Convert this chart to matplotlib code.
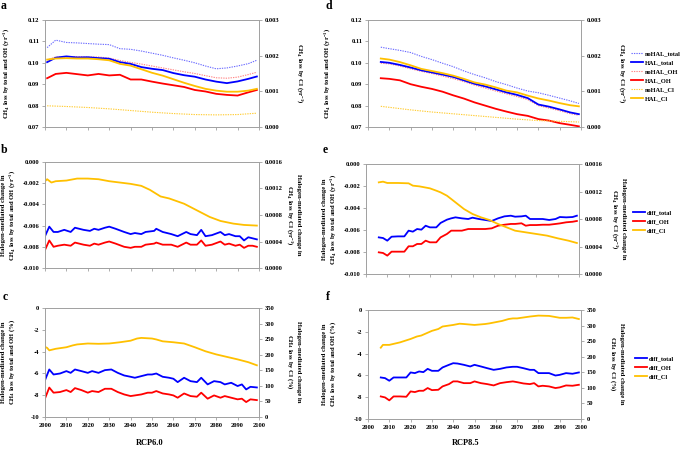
import matplotlib
matplotlib.use("Agg")
import matplotlib.pyplot as plt
from matplotlib.ticker import FormatStrFormatter, MultipleLocator
from matplotlib.lines import Line2D

plt.rcParams["font.family"] = ["Liberation Serif", "DejaVu Serif"]
plt.rcParams["font.weight"] = "bold"
plt.rcParams["mathtext.fontset"] = "custom"
plt.rcParams["mathtext.rm"] = "Liberation Serif:bold"
plt.rcParams["mathtext.it"] = "Liberation Serif:bold:italic"
plt.rcParams["mathtext.bf"] = "Liberation Serif:bold"
plt.rcParams["mathtext.default"] = "rm"
plt.rcParams["axes.unicode_minus"] = False

# ---------------- data: RCP6.0 (panels a, b, c) ----------------
years_a = [2001, 2005, 2010, 2015, 2020, 2025, 2030, 2035, 2040, 2045, 2050,
           2055, 2060, 2065, 2070, 2075, 2080, 2085, 2090, 2095, 2099]
noHAL_total_a = [0.1071, 0.1106, 0.1095, 0.1093, 0.1090, 0.1087, 0.1085, 0.1066, 0.1063, 0.1055, 0.1045,
                 0.1035, 0.1023, 0.1012, 0.1000, 0.0985, 0.0972, 0.0976, 0.0985, 0.0996, 0.1012]
HAL_total_a = [0.1003, 0.1024, 0.1030, 0.1025, 0.1026, 0.1022, 0.1019, 0.1003, 0.0995, 0.0980, 0.0972,
               0.0966, 0.0952, 0.0942, 0.0935, 0.0922, 0.0912, 0.0905, 0.0913, 0.0925, 0.0936]
noHAL_OH_a = [0.1014, 0.1027, 0.1027, 0.1029, 0.1027, 0.1027, 0.1022, 0.1011, 0.1002, 0.0994, 0.0985,
              0.0976, 0.0967, 0.0958, 0.0950, 0.0940, 0.0930, 0.0928, 0.0933, 0.0945, 0.0956]
HAL_OH_a = [0.0928, 0.0948, 0.0953, 0.0947, 0.0941, 0.0948, 0.0941, 0.0944, 0.0922, 0.0922, 0.0912,
            0.0903, 0.0895, 0.0887, 0.0873, 0.0866, 0.0855, 0.0850, 0.0847, 0.0862, 0.0873]
HAL_Cl_a = [0.00189, 0.00192, 0.00193, 0.00192, 0.00192, 0.00190, 0.00187, 0.00177, 0.00172, 0.00162, 0.00152,
            0.00144, 0.00134, 0.00124, 0.00115, 0.00107, 0.00102, 0.00099, 0.00099, 0.00102, 0.00107]
years_cl_a = [2001, 2010, 2020, 2030, 2040, 2050, 2060, 2070, 2080, 2090, 2099]
noHAL_Cl_a = [0.000594, 0.000575, 0.000547, 0.000509, 0.000462, 0.000415, 0.000377, 0.000349, 0.00034, 0.000349, 0.000387]

years_b = [2000, 2002, 2004, 2006, 2009, 2012, 2014, 2018, 2021, 2023, 2025, 2028, 2030, 2033, 2037, 2040,
           2042, 2045, 2047, 2051, 2052, 2055, 2059, 2062, 2066, 2068, 2071, 2073, 2075, 2078, 2082, 2084,
           2086, 2089, 2091, 2093, 2095, 2097, 2099]
diff_total_b = [-0.0070, -0.0061, -0.0066, -0.0066, -0.0064, -0.0066, -0.0062, -0.0064, -0.0065, -0.0063,
                -0.0064, -0.0062, -0.0061, -0.0063, -0.0066, -0.0068, -0.0067, -0.0068, -0.0066, -0.0065,
                -0.0063, -0.0066, -0.0068, -0.0070, -0.0066, -0.0068, -0.0069, -0.0064, -0.0070, -0.0069,
                -0.0066, -0.0069, -0.0068, -0.0070, -0.0070, -0.0074, -0.0071, -0.0072, -0.0073]
diff_OH_b = [-0.0083, -0.0074, -0.0080, -0.0079, -0.0078, -0.0079, -0.0076, -0.0078, -0.0079, -0.0077,
             -0.0078, -0.0076, -0.0075, -0.0077, -0.0080, -0.0081, -0.0080, -0.0080, -0.0078, -0.0077,
             -0.0076, -0.0078, -0.0078, -0.0080, -0.0076, -0.0078, -0.0078, -0.0074, -0.0079, -0.0078,
             -0.0075, -0.0078, -0.0077, -0.0079, -0.0078, -0.0081, -0.0079, -0.0079, -0.0080]
years_bcl = [2000, 2001, 2003, 2005, 2010, 2015, 2020, 2025, 2030, 2035, 2040, 2045, 2049, 2054, 2058,
             2065, 2071, 2077, 2082, 2088, 2093, 2099]
diff_Cl_b = [0.00131, 0.00134, 0.00129, 0.00131, 0.00132, 0.00135, 0.00135, 0.00134, 0.00131, 0.00129,
             0.00127, 0.00124, 0.00118, 0.00108, 0.00105, 0.00097, 0.00087, 0.00077, 0.00071, 0.00067,
             0.00065, 0.00064]

years_c = [2000, 2002, 2004, 2007, 2010, 2012, 2014, 2017, 2020, 2022, 2025, 2028, 2031, 2034, 2037, 2040,
           2042, 2045, 2048, 2050, 2052, 2055, 2058, 2060, 2062, 2065, 2068, 2071, 2073, 2076, 2079, 2082,
           2084, 2087, 2090, 2092, 2094, 2096, 2099]
diff_total_c = [-6.62, -5.64, -6.10, -6.01, -5.79, -5.95, -5.64, -5.79, -5.95, -5.79, -5.95, -5.70, -5.64,
                -5.95, -6.19, -6.31, -6.40, -6.25, -6.10, -6.10, -6.01, -6.31, -6.40, -6.49, -6.80, -6.40,
                -6.71, -6.80, -6.40, -7.01, -6.71, -6.80, -7.01, -6.86, -7.16, -7.01, -7.47, -7.23, -7.29]
diff_OH_c = [-8.30, -7.30, -7.77, -7.71, -7.53, -7.71, -7.35, -7.53, -7.77, -7.62, -7.71, -7.41, -7.41,
             -7.71, -7.93, -8.08, -8.02, -7.93, -7.77, -7.77, -7.62, -7.84, -7.93, -8.02, -8.23, -7.84,
             -8.08, -8.14, -7.77, -8.32, -8.02, -8.23, -8.08, -8.23, -8.38, -8.32, -8.63, -8.38, -8.45]
years_ccl = [2000, 2001, 2002, 2005, 2010, 2013, 2015, 2020, 2025, 2030, 2035, 2040, 2043, 2045, 2050,
             2052, 2055, 2060, 2065, 2070, 2075, 2080, 2085, 2090, 2095, 2099]
diff_Cl_c = [225, 222, 214, 219, 224, 230, 233, 236, 235, 236, 240, 245, 252, 254, 252,
             249, 243, 240, 236, 224, 211, 201, 193, 185, 176, 166]

# ---------------- data: RCP8.5 (panels d, e, f) ----------------
years_d = [2006, 2010, 2015, 2020, 2025, 2030, 2035, 2040, 2045, 2050,
           2055, 2060, 2065, 2070, 2075, 2080, 2085, 2090, 2095, 2099]
noHAL_total_d = [0.1073, 0.1066, 0.1058, 0.1048, 0.1030, 0.1015, 0.0998, 0.0982, 0.0962, 0.0945,
                 0.0930, 0.0912, 0.0898, 0.0882, 0.0868, 0.0860, 0.0848, 0.0835, 0.0822, 0.0810]
HAL_total_d = [0.1004, 0.1000, 0.0990, 0.0978, 0.0965, 0.0955, 0.0945, 0.0934, 0.0918, 0.0902,
               0.0890, 0.0876, 0.0862, 0.0850, 0.0835, 0.0805, 0.0795, 0.0782, 0.0768, 0.0760]
noHAL_OH_d = [0.0998, 0.0995, 0.0985, 0.0972, 0.0960, 0.0950, 0.0938, 0.0926, 0.0912, 0.0896,
              0.0882, 0.0868, 0.0855, 0.0842, 0.0828, 0.0800, 0.0788, 0.0776, 0.0762, 0.0755]
HAL_OH_d = [0.0928, 0.0925, 0.0918, 0.0900, 0.0888, 0.0878, 0.0865, 0.0848, 0.0833, 0.0815,
            0.0800, 0.0785, 0.0772, 0.0760, 0.0752, 0.0737, 0.0730, 0.0718, 0.0710, 0.0703]
HAL_Cl_d = [0.00192, 0.00189, 0.00182, 0.00173, 0.00163, 0.00157, 0.00151, 0.00144, 0.00135, 0.00125,
            0.00119, 0.00111, 0.00102, 0.00097, 0.00088, 0.00080, 0.00074, 0.00067, 0.00061, 0.00058]
years_cl_d = [2006, 2020, 2030, 2040, 2050, 2060, 2070, 2080, 2090, 2099]
noHAL_Cl_d = [0.00058, 0.00048, 0.00042, 0.00037, 0.00032, 0.00027, 0.00022, 0.00018, 0.00016, 0.00014]

years_e = [2006, 2008, 2010, 2012, 2015, 2018, 2020, 2022, 2024, 2026, 2028, 2030, 2033, 2035, 2038, 2040,
           2042, 2045, 2048, 2050, 2053, 2056, 2059, 2062, 2065, 2068, 2070, 2073, 2075, 2077, 2080, 2083,
           2086, 2089, 2091, 2094, 2097, 2099]
diff_total_e = [-0.00667, -0.00673, -0.00697, -0.00661, -0.00658, -0.00658, -0.00606, -0.00615, -0.00591,
                -0.00597, -0.00561, -0.00576, -0.00576, -0.00536, -0.00506, -0.00494, -0.00485, -0.00494,
                -0.00500, -0.00488, -0.00500, -0.00509, -0.00518, -0.00494, -0.00476, -0.00470, -0.00479,
                -0.00476, -0.00470, -0.00500, -0.00500, -0.00500, -0.00509, -0.00500, -0.00482, -0.00485,
                -0.00482, -0.00470]
diff_OH_e = [-0.00803, -0.00809, -0.00833, -0.00797, -0.00797, -0.00797, -0.00748, -0.00748, -0.00727,
             -0.00727, -0.00697, -0.00712, -0.00712, -0.00667, -0.00636, -0.00606, -0.00606, -0.00606,
             -0.00591, -0.00591, -0.00591, -0.00591, -0.00585, -0.00561, -0.00552, -0.00545, -0.00545,
             -0.00539, -0.00561, -0.00555, -0.00555, -0.00552, -0.00552, -0.00545, -0.00540, -0.00530,
             -0.00525, -0.00518]
years_ecl = [2006, 2008, 2010, 2015, 2020, 2022, 2025, 2030, 2033, 2035, 2038, 2040, 2043, 2046, 2050,
             2054, 2058, 2062, 2066, 2070, 2075, 2080, 2085, 2090, 2095, 2099]
diff_Cl_e = [0.001333, 0.001343, 0.001324, 0.001324, 0.001319, 0.001285, 0.001275, 0.001246, 0.001212,
             0.001188, 0.001139, 0.001091, 0.001018, 0.000945, 0.000873, 0.000824, 0.000785, 0.000727,
             0.000679, 0.000630, 0.000606, 0.000582, 0.000558, 0.000519, 0.000485, 0.000451]

years_f = [2006, 2008, 2010, 2012, 2015, 2018, 2020, 2022, 2024, 2026, 2028, 2030, 2033, 2035, 2038, 2040,
           2042, 2045, 2048, 2050, 2053, 2056, 2059, 2062, 2065, 2068, 2070, 2073, 2076, 2078, 2080, 2082,
           2085, 2088, 2090, 2093, 2096, 2099]
diff_total_f = [-6.19, -6.25, -6.49, -6.19, -6.19, -6.19, -5.73, -5.79, -5.64, -5.70, -5.40, -5.58, -5.58,
                -5.27, -5.03, -4.88, -4.91, -5.03, -5.18, -5.03, -5.18, -5.34, -5.49, -5.40, -5.27, -5.21,
                -5.21, -5.34, -5.49, -5.49, -5.79, -5.79, -5.79, -6.01, -5.95, -5.79, -5.85, -5.73]
diff_OH_f = [-7.93, -8.02, -8.29, -7.93, -7.93, -7.96, -7.47, -7.53, -7.41, -7.41, -7.16, -7.35, -7.32,
             -7.01, -6.80, -6.55, -6.55, -6.71, -6.71, -6.55, -6.71, -6.80, -6.92, -6.71, -6.62, -6.55,
             -6.62, -6.74, -6.80, -6.71, -7.01, -6.95, -7.01, -7.16, -7.10, -6.92, -6.95, -6.86]
years_fcl = [2006, 2007, 2010, 2015, 2020, 2023, 2025, 2030, 2033, 2035, 2040, 2043, 2045, 2050, 2055,
             2057, 2060, 2063, 2066, 2068, 2070, 2073, 2076, 2080, 2085, 2090, 2093, 2096, 2099]
diff_Cl_f = [229, 238, 238, 246, 257, 265, 268, 283, 289, 297, 302, 306, 305, 302, 305,
             307, 311, 315, 321, 323, 323, 326, 329, 332, 331, 325, 325, 326, 321]

# ---------------- style ----------------
BLUE, RED, GOLD = "#0000FF", "#FF0000", "#FFC000"
LBLUE, PINK, LGOLD = "#6B6BFF", "#FF8585", "#FFCC33"
GRAY = "#A0A0A0"
TICK_FS = 4.7
LAB_FS = 4.8
W, H = 683, 449

fig = plt.figure(figsize=(W / 100, H / 100), dpi=100)


def px_axes(x0, y0, x1, y1):
    return fig.add_axes([x0 / W, 1 - y1 / H, (x1 - x0) / W, (y1 - y0) / H])


def style(ax, ylim, ystep, fmt, showx=False):
    ax.set_xlim(2000, 2100)
    ax.set_ylim(*ylim)
    ax.xaxis.set_major_locator(MultipleLocator(10))
    ax.yaxis.set_major_locator(MultipleLocator(ystep))
    ax.yaxis.set_major_formatter(FormatStrFormatter(fmt))
    ax.xaxis.set_major_formatter(FormatStrFormatter("%d"))
    for s in ax.spines.values():
        s.set_color(GRAY)
        s.set_linewidth(0.6)
    ax.tick_params(direction="out", length=2.5, width=0.6, color=GRAY,
                   labelsize=TICK_FS, pad=1.5)
    if not showx:
        ax.tick_params(axis="x", labelbottom=False)


def ftext(x, y, s, **kw):
    fig.text(x / W, 1 - y / H, s, **kw)


SOLID = dict(lw=1.3, solid_joinstyle="round")
DOT = dict(lw=0.8, linestyle=(0, (1.2, 1.0)))

# ---- panel a / d ----
for (x0, x1), yrs, nt, ht, no, ho, hc, ycl, nc in [
    ((45, 259), years_a, noHAL_total_a, HAL_total_a, noHAL_OH_a, HAL_OH_a, HAL_Cl_a, years_cl_a, noHAL_Cl_a),
    ((368, 581), years_d, noHAL_total_d, HAL_total_d, noHAL_OH_d, HAL_OH_d, HAL_Cl_d, years_cl_d, noHAL_Cl_d),
]:
    ax = px_axes(x0, 20, x1, 127)
    style(ax, (0.07, 0.12), 0.01, "%.2f")
    ax.plot(yrs, nt, color=LBLUE, **DOT)
    ax.plot(yrs, no, color=PINK, **DOT)
    ax.plot(yrs, ht, color=BLUE, **SOLID)
    ax.plot(yrs, ho, color=RED, **SOLID)
    ax2 = ax.twinx()
    style(ax2, (0.0, 0.003), 0.001, "%.3f")
    ax2.plot(ycl, nc, color=LGOLD, **DOT)
    ax2.plot(yrs, hc, color=GOLD, **SOLID)

# ---- panel b / e ----
for (x0, y0, x1, y1), yrs, dt, do, ycl, dc in [
    ((45, 162, 259, 268), years_b, diff_total_b, diff_OH_b, years_bcl, diff_Cl_b),
    ((366, 164, 579, 274), years_e, diff_total_e, diff_OH_e, years_ecl, diff_Cl_e),
]:
    ax = px_axes(x0, y0, x1, y1)
    style(ax, (-0.010, 0.0), 0.002, "%.3f")
    ax.plot(yrs, dt, color=BLUE, **SOLID)
    ax.plot(yrs, do, color=RED, **SOLID)
    ax2 = ax.twinx()
    style(ax2, (0.0, 0.0016), 0.0004, "%.4f")
    ax2.plot(ycl, dc, color=GOLD, **SOLID)

# ---- panel c / f ----
for (x0, y0, x1, y1), yrs, dt, do, ycl, dc in [
    ((45, 308, 259, 417), years_c, diff_total_c, diff_OH_c, years_ccl, diff_Cl_c),
    ((368, 310, 581, 419), years_f, diff_total_f, diff_OH_f, years_fcl, diff_Cl_f),
]:
    ax = px_axes(x0, y0, x1, y1)
    style(ax, (-10, 0), 2, "%d", showx=True)
    ax.plot(yrs, dt, color=BLUE, **SOLID)
    ax.plot(yrs, do, color=RED, **SOLID)
    ax2 = ax.twinx()
    style(ax2, (0, 350), 50, "%d", showx=True)
    ax2.plot(ycl, dc, color=GOLD, **SOLID)

# ---- axis labels ----
lab_tot = "CH$_4$ loss by total and OH (yr$^{-1}$)"
lab_cl = "CH$_4$ loss by Cl (yr$^{-1}$)"
lab_b_l = "Halogen-mediated change in\nCH$_4$ loss by total and OH (yr$^{-1}$)"
lab_b_r = "Halogen-mediated change in\nCH$_4$ loss by Cl (yr$^{-1}$)"
lab_c_l = "Halogen-mediated change in\nCH$_4$ loss by total and OH (%)"
lab_c_r = "Halogen-mediated change in\nCH$_4$ loss by Cl (%)"
kl = dict(rotation=90, ha="center", va="center", fontsize=LAB_FS, linespacing=1.15)
kr = dict(rotation=270, ha="center", va="center", fontsize=LAB_FS, linespacing=1.15)
ftext(6, 73.5, lab_tot, **kl)
ftext(327, 73.5, lab_tot, **kl)
ftext(300, 73.5, lab_cl, **kr)
ftext(622, 73.5, lab_cl, **kr)
ftext(9, 215, lab_b_l, **kl)
ftext(330, 219, lab_b_l, **kl)
ftext(293, 215, lab_b_r, **kr)
ftext(618, 219, lab_b_r, **kr)
ftext(9, 362, lab_c_l, **kl)
ftext(330, 364, lab_c_l, **kl)
ftext(293, 362, lab_c_r, **kr)
ftext(616, 364, lab_c_r, **kr)

# ---- panel letters ----
for x, y, s in [(4, 6, "a"), (329, 6, "d"), (4, 150, "b"), (325, 150, "e"), (5, 297, "c"), (328, 297, "f")]:
    ftext(x, y, s, fontsize=8.5, ha="center", va="center")

ftext(150, 443, "RCP6.0", fontsize=6, ha="center", va="center")
ftext(466, 443, "RCP8.5", fontsize=6, ha="center", va="center")

# ---- legends ----
leg_d = [Line2D([], [], color=LBLUE, **DOT), Line2D([], [], color=BLUE, **SOLID),
         Line2D([], [], color=PINK, **DOT), Line2D([], [], color=RED, **SOLID),
         Line2D([], [], color=LGOLD, **DOT), Line2D([], [], color=GOLD, **SOLID)]
names_d = ["noHAL_total", "HAL_total", "noHAL_OH", "HAL_OH", "noHAL_Cl", "HAL_Cl"]
leg_diff = [Line2D([], [], color=BLUE, **SOLID), Line2D([], [], color=RED, **SOLID),
            Line2D([], [], color=GOLD, **SOLID)]
names_diff = ["diff_total", "diff_OH", "diff_Cl"]
lk = dict(loc="upper left", frameon=False, fontsize=4.6, handlelength=1.8,
          handletextpad=0.3, labelspacing=0.55, borderpad=0, borderaxespad=0)
fig.legend(leg_d, names_d, bbox_to_anchor=(631 / W, 1 - 51 / H), **lk)
fig.legend(leg_diff, names_diff, bbox_to_anchor=(633 / W, 1 - 210 / H), **lk)
fig.legend(leg_diff, names_diff, bbox_to_anchor=(635 / W, 1 - 356 / H), **lk)

fig.savefig("out.png", dpi=100)
